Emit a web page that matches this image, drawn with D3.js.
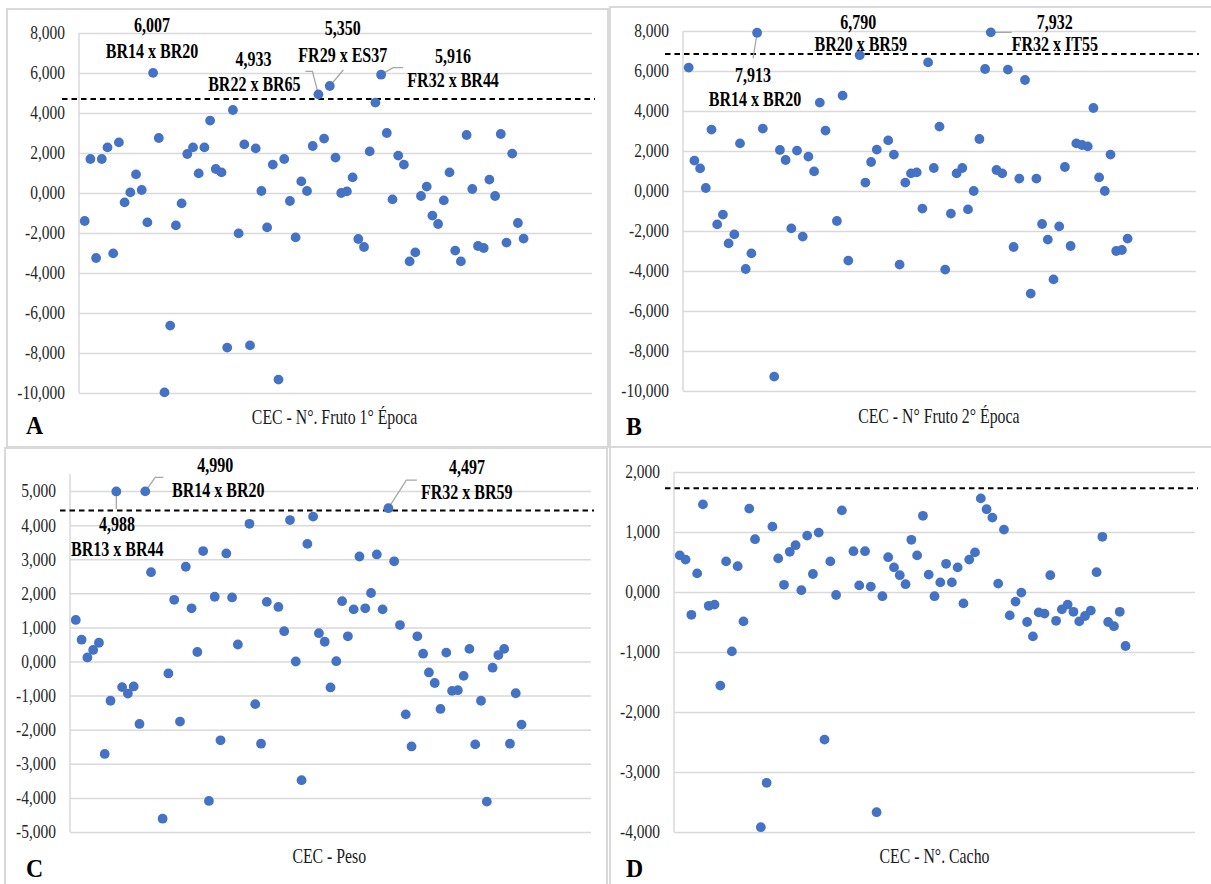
<!DOCTYPE html>
<html>
<head>
<meta charset="utf-8">
<script src="https://cdn.jsdelivr.net/npm/d3@7"></script>
<style>
  html, body { margin: 0; padding: 0; background: #fff; }
  svg { display: block; font-family: "Liberation Serif", "Times New Roman", serif; }
</style>
</head>
<body>
<svg id="chart" width="1211" height="884"></svg>
<script>
// Specific combining ability (CEC) estimates for each hybrid, numbered 1..78.
// null = hybrid not evaluated for that trait.
const valuesA = [ // N°. Fruto 1° Época
  -1.40, 1.70, -3.25, 1.70, 2.28, -3.02, 2.53, -0.47, 0.03, 0.93,
  0.15, -1.47, 6.007, 2.75, -9.97, -6.63, -1.62, -0.52, 1.95, 2.28,
  0.98, 2.28, 3.62, 1.20, 1.03, -7.73, 4.15, -2.02, 2.43, -7.62,
  2.23, 0.10, -1.72, 1.42, -9.33, 1.70, -0.40, -2.22, 0.58, 0.10,
  2.35, 4.933, 2.72, 5.350, 1.77, 0.00, 0.08, 0.78, -2.30, -2.70,
  2.08, 4.52, 5.916, 3.00, -0.32, 1.87, 1.42, -3.42, -2.97, -0.15,
  0.32, -1.13, -1.55, -0.37, 1.03, -2.88, -3.42, 2.90, 0.20, -2.65,
  -2.75, 0.67, -0.15, 2.95, -2.48, 1.97, -1.50, -2.28
];
const valuesB = [ // N° Fruto 2° Época
  6.17, 1.52, 1.13, 0.15, 3.07, -1.67, -1.18, -2.62, -2.17, 2.38,
  -3.90, -3.12, 7.913, 3.12, null, -9.28, 2.05, 1.55, -1.87, 2.02,
  -2.28, 1.72, 0.98, 4.42, 3.02, null, -1.50, 4.77, -3.48, null,
  6.790, 0.42, 1.45, 2.07, null, 2.53, 1.82, -3.68, 0.42, 0.88,
  0.93, -0.88, 6.43, 1.15, 3.22, -3.93, -1.13, 0.88, 1.15, -0.92,
  0.00, 2.60, 6.10, 7.932, 1.05, 0.88, 6.07, -2.80, 0.62, 5.55,
  -5.13, 0.62, -1.65, -2.43, -4.42, -1.77, 1.20, -2.75, 2.38, 2.30,
  2.23, 4.15, 0.68, 0.00, 1.82, -3.00, -2.95, -2.38
];
const valuesC = [ // Peso
  1.22, 0.64, 0.12, 0.34, 0.55, -2.71, -1.15, 4.988, -0.75, -0.94,
  -0.73, -1.83, 4.990, 2.62, null, -4.61, -0.35, 1.81, -1.76, 2.78,
  1.56, 0.28, 3.24, -4.09, 1.90, -2.31, 3.17, 1.88, 0.50, null,
  4.04, -1.25, -2.41, 1.75, null, 1.60, 0.89, 4.15, 0.00, -3.48,
  3.45, 4.25, 0.83, 0.58, -0.76, 0.01, 1.77, 0.74, 1.53, 3.08,
  1.56, 2.01, 3.14, 1.53, 4.497, 2.94, 1.07, -1.55, -2.49, 0.74,
  0.23, -0.32, -0.63, -1.39, 0.26, -0.86, -0.84, -0.42, 0.37, -2.43,
  -1.15, -4.11, -0.18, 0.19, 0.37, -2.41, -0.93, -1.85
];
const valuesD = [ // N°. Cacho
  0.61, 0.54, -0.38, 0.31, 1.46, -0.23, -0.21, -1.56, 0.51, -0.99,
  0.43, -0.49, 1.39, 0.88, -3.92, -3.18, 1.09, 0.56, 0.12, 0.67,
  0.78, 0.03, 0.94, 0.30, 0.99, -2.46, 0.51, -0.05, 1.36, null,
  0.68, 0.11, 0.68, 0.09, -3.67, -0.07, 0.58, 0.41, 0.28, 0.13,
  0.87, 0.61, 1.27, 0.29, -0.07, 0.16, 0.47, 0.16, 0.41, -0.19,
  0.54, 0.66, 1.56, 1.38, 1.24, 0.14, 1.04, -0.39, -0.16, -0.01,
  -0.50, -0.74, -0.34, -0.36, 0.28, -0.48, -0.29, -0.21, -0.33, -0.49,
  -0.40, -0.31, 0.33, 0.92, -0.50, -0.57, -0.33, -0.90
];

// Cut-off used to flag the best crosses
const thresholds = { A: 4.70, B: 6.85, C: 4.43, D: 1.73 };

const ticksA = [-10, -8, -6, -4, -2, 0, 2, 4, 6, 8];
const ticksB = [-10, -8, -6, -4, -2, 0, 2, 4, 6, 8];
const ticksC = [-5, -4, -3, -2, -1, 0, 1, 2, 3, 4, 5];
const ticksD = [-4, -3, -2, -1, 0, 1, 2];

const titles = {
  A: "CEC - N°. Fruto 1° Época",
  B: "CEC - N° Fruto 2° Época",
  C: "CEC - Peso",
  D: "CEC - N°. Cacho"
};

// Highlighted crosses: hybrid number and name
const highlightsA = [
  { i: 13, name: "BR14 x BR20" }, { i: 42, name: "BR22 x BR65" },
  { i: 44, name: "FR29 x ES37" }, { i: 53, name: "FR32 x BR44" }
];
const highlightsB = [
  { i: 13, name: "BR14 x BR20" }, { i: 31, name: "BR20 x BR59" },
  { i: 54, name: "FR32 x IT55" }
];
const highlightsC = [
  { i: 8, name: "BR13 x BR44" }, { i: 13, name: "BR14 x BR20" },
  { i: 55, name: "FR32 x BR59" }
];
const highlightsD = [];

// ---- layout -------------------------------------------------------------
const FONT = '"Liberation Serif", "Times New Roman", serif';

// label placement relative to its dot: value text centre/baseline, name baseline, leader path
const labelLayout = {
  A: {
    13: { dx: -1, dyV: -41, dyN: -15, dxN: -1, leader: null },
    42: { dx: -65, dyV: -28, dyN: -3.5, dxN: -64, leader: [[-6, -23], [-13, -23]] },
    44: { dx: 13, dyV: -51, dyN: -24.5, dxN: 13, leader: [[13.5, -16]] },
    53: { dx: 72, dyV: -11.5, dyN: 12.8, dxN: 72, leader: [[12, -7], [22, -7]] }
  },
  B: {
    13: { dx: -4, dyV: 49, dyN: 73.3, dxN: -2, leader: [[-4, 25.5]] },
    31: { dx: -1.4, dyV: -26, dyN: -4.3, dxN: 1, leader: null },
    54: { dx: 64, dyV: -3, dyN: 18.8, dxN: 64, leader: [[21, 0]] }
  },
  C: {
    8: { dx: 0.7, dyV: 40, dyN: 64.2, dxN: 1, leader: [[0, 17.5]] },
    13: { dx: 70, dyV: -19, dyN: 5.3, dxN: 73, leader: [[10, -14], [18, -14]] },
    55: { dx: 78.5, dyV: -34.3, dyN: -9.3, dxN: 78.3, leader: [[18, -28], [28.5, -28]] }
  },
  D: {}
};

const panels = [
  { key: "A", values: valuesA, ticks: ticksA, domain: [-10, 8], highlights: highlightsA,
    left: 79, right: 592, top: 33, bottom: 393, dashL: 17,
    title: [334.5, 424], letter: [26, 434], box: [7, 9, 608, 447] },
  { key: "B", values: valuesB, ticks: ticksB, domain: [-10, 8], highlights: highlightsB,
    left: 683, right: 1196, top: 31, bottom: 391, dashL: 18,
    title: [938.8, 423], letter: [626, 435], box: [610, 7, 1213, 447] },
  { key: "C", values: valuesC, ticks: ticksC, domain: [-5, 5.5], highlights: highlightsC,
    left: 70, right: 591, top: 474, bottom: 832, dashL: 10,
    title: [329.3, 863], letter: [26, 877], box: [5, 448, 607, 886] },
  { key: "D", values: valuesD, ticks: ticksD, domain: [-4, 2], highlights: highlightsD,
    left: 674, right: 1195, top: 472, bottom: 832, dashL: 9,
    title: [934.5, 863], letter: [626, 877], box: [610, 447, 1213, 886] }
];

const locale = d3.formatLocale({
  decimal: ",", thousands: ".", grouping: [3], currency: ["", ""], minus: "-"
});
const fmt = locale.format(".3f");

const svg = d3.select("#chart");
svg.append("rect").attr("width", 1211).attr("height", 884).attr("fill", "#fff");

const GRID = "#d9d9d9";
const DOT = "#4472c4";

// text squeezed horizontally, like the original typesetting
function squeezedText(g, x, y, str, opts) {
  return g.append("text")
    .attr("transform", `translate(${x},${y}) scale(${opts.sx},1)`)
    .attr("text-anchor", opts.anchor || "middle")
    .attr("font-family", FONT)
    .attr("font-size", opts.size)
    .attr("font-weight", opts.weight || "normal")
    .attr("fill", opts.fill || "#000")
    .text(str);
}

function drawPanel(p) {
  const g = svg.append("g").attr("class", "panel-" + p.key);

  // panel frame
  const [bx0, by0, bx1, by1] = p.box;
  g.append("rect")
    .attr("x", bx0).attr("y", by0)
    .attr("width", bx1 - bx0).attr("height", by1 - by0)
    .attr("fill", "none").attr("stroke", GRID).attr("stroke-width", 2);

  const x = d3.scaleLinear().domain([0, 90]).range([p.left, p.right]);
  const y = d3.scaleLinear().domain(p.domain).range([p.bottom, p.top]);

  // gridlines + tick labels
  const sx = 0.86;
  const axis = d3.axisLeft(y)
    .tickValues(p.ticks)
    .tickFormat(fmt)
    .tickSize(-(p.right - p.left))
    .tickPadding(14);
  const ag = g.append("g")
    .attr("transform", `translate(${p.left},0)`)
    .call(axis)
    .attr("font-family", FONT)
    .attr("font-size", null);
  ag.select(".domain").remove();
  ag.selectAll(".tick line").attr("stroke", GRID).attr("stroke-width", 1.5);
  ag.selectAll(".tick text")
    .attr("font-family", FONT)
    .attr("font-size", 18)
    .attr("fill", "#262626")
    .attr("x", -14 / sx)
    .attr("dy", "0.33em")
    .attr("transform", `scale(${sx},1)`);

  // vertical axis line
  g.append("line")
    .attr("x1", p.left).attr("x2", p.left)
    .attr("y1", y(p.domain[1])).attr("y2", y(p.domain[0]))
    .attr("stroke", GRID).attr("stroke-width", 1.5);

  // cut-off line
  g.append("line")
    .attr("x1", p.left - p.dashL).attr("x2", p.right + 3)
    .attr("y1", y(thresholds[p.key])).attr("y2", y(thresholds[p.key]))
    .attr("stroke", "#000").attr("stroke-width", 2)
    .attr("stroke-dasharray", "5.5,4");

  const pts = p.values
    .map((v, k) => ({ i: k + 1, v }))
    .filter(d => d.v !== null);

  // leader lines for highlighted crosses
  const lay = labelLayout[p.key];
  const line = d3.line();
  p.highlights.forEach(h => {
    const L = lay[h.i];
    if (!L || !L.leader) return;
    const cx = x(h.i), cy = y(p.values[h.i - 1]);
    const path = [[cx, cy]].concat(L.leader.map(([dx, dy]) => [cx + dx, cy + dy]));
    g.append("path").attr("d", line(path))
      .attr("fill", "none").attr("stroke", "#a6a6a6").attr("stroke-width", 1.3);
  });

  // dots
  g.selectAll("circle.dot").data(pts).join("circle")
    .attr("class", "dot")
    .attr("cx", d => x(d.i))
    .attr("cy", d => y(d.v))
    .attr("r", 4.9)
    .attr("fill", DOT);

  // value + name labels
  p.highlights.forEach(h => {
    const L = lay[h.i];
    const v = p.values[h.i - 1];
    const cx = x(h.i), cy = y(v);
    squeezedText(g, cx + L.dx, cy + L.dyV, fmt(v), { sx: 0.8, size: 20, weight: "bold" });
    squeezedText(g, cx + L.dxN, cy + L.dyN, h.name, { sx: 0.8, size: 20, weight: "bold" });
  });

  // axis title
  squeezedText(g, p.title[0], p.title[1], titles[p.key], { sx: 0.79, size: 20, fill: "#1a1a1a" });

  // panel letter
  squeezedText(g, p.letter[0], p.letter[1], p.key, { sx: 0.95, size: 25, weight: "bold", anchor: "start" });
}

panels.forEach(drawPanel);
</script>
</body>
</html>
